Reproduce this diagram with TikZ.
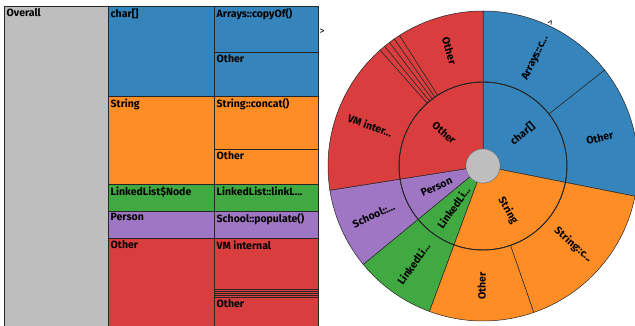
\documentclass[tikz,border=0pt]{standalone}
\usepackage{fontspec}
\setmainfont{Fira Sans}
\usetikzlibrary{positioning}
\definecolor{FlameBlue}{HTML}{3585BC}
\definecolor{FlameOrange}{HTML}{FF8D26}
\definecolor{FlameGreen}{HTML}{41A941}
\definecolor{FlameRed}{HTML}{DA3D3D}
\definecolor{FlamePurple}{HTML}{9F76C4}
\definecolor{FlameGray}{HTML}{BEBEBE}

\begin{document}
\begin{tikzpicture}[x=1pt, y=-1pt,
  cell/.style={draw=black!85, line width=0.6pt},
  tmlabel/.style={anchor=north west, inner sep=2.5pt, font=\bfseries\fontsize{10.5}{11}\selectfont},
  wedge/.style={draw=black!85, line width=0.5pt},
  sblabel/.style={inner sep=0pt, font=\bfseries\fontsize{10.5}{11}\selectfont},
  tip/.style={inner sep=0pt, font=\fontsize{10}{10}\selectfont}
]
  \useasboundingbox (0,0) rectangle (635,326);
  \clip (0,0) rectangle (635,326);

  % treemap, left
  \draw[cell, fill=FlameGray] (4,6) rectangle (108,330);
  \node[tmlabel] (overall) at (4,6) {Overall};
  \foreach \top/\bot/\col/\txt [count=\i] in {
      6/96/FlameBlue/{char[]},
      96/184/FlameOrange/{String},
      184/211/FlameGreen/{LinkedList\$Node},
      211/238/FlamePurple/{Person},
      238/330/FlameRed/{Other}} {
    \draw[cell, fill=\col] (108,\top) rectangle (214,\bot);
    \node[tmlabel] (type-\i) at (108,\top) {\txt};
  }
  \foreach \top/\bot/\col/\txt [count=\i] in {
      6/52/FlameBlue/{Arrays::copyOf()},
      52/96/FlameBlue/{Other},
      96/149/FlameOrange/{String::concat()},
      149/184/FlameOrange/{Other},
      184/211/FlameGreen/{LinkedList::linkL...},
      211/238/FlamePurple/{School::populate()},
      238/289/FlameRed/{VM internal},
      289/291/FlameRed/{},
      291/293/FlameRed/{},
      293/295/FlameRed/{},
      295/297/FlameRed/{},
      297/330/FlameRed/{Other}} {
    \draw[cell, fill=\col] (214,\top) rectangle (318,\bot);
    \node[tmlabel] (site-\i) at (214,\top) {\txt};
  }
  \node[tip] (tipA) at (322,32) {>};

  % sunburst, right
  \begin{scope}[shift={(483,166)}]
    % inner ring
    \foreach \a/\b/\col/\txt [count=\i] in {
        0/101.25/FlameBlue/{char[]},
        101.25/200.25/FlameOrange/{String},
        200.25/230.6/FlameGreen/{LinkedLi...},
        230.6/261/FlamePurple/{Person},
        261/360/FlameRed/{Other}} {
      \fill[wedge, fill=\col] (\a-90:17) -- (\a-90:84)
        arc[start angle=\a-90, end angle=\b-90, radius=84]
        -- (\b-90:17) arc[start angle=\b-90, end angle=\a-90, radius=17] -- cycle;
      \pgfmathsetmacro\mid{(\a+\b)/2}
      \pgfmathsetmacro\rot{90-\mid}
      \pgfmathsetmacro\rot{ifthenelse(\rot<-90,\rot+180,\rot)}
      \node[sblabel, rotate=\rot] (ring-\i) at (\mid-90:51) {\txt};
    }
    % outer ring
    \foreach \a/\b/\col/\txt [count=\i] in {
        0/51.75/FlameBlue/{Arrays::c...},
        51.75/101.25/FlameBlue/{Other},
        101.25/160.9/FlameOrange/{String::c...},
        160.9/200.25/FlameOrange/{Other},
        200.25/230.6/FlameGreen/{LinkedLi...},
        230.6/261/FlamePurple/{School::...},
        261/318.4/FlameRed/{VM inter...},
        318.4/320.6/FlameRed/{},
        320.6/322.9/FlameRed/{},
        322.9/325.1/FlameRed/{},
        325.1/327.4/FlameRed/{},
        327.4/360/FlameRed/{Other}} {
      \fill[wedge, fill=\col] (\a-90:84) -- (\a-90:155)
        arc[start angle=\a-90, end angle=\b-90, radius=155]
        -- (\b-90:84) arc[start angle=\b-90, end angle=\a-90, radius=84] -- cycle;
      \pgfmathsetmacro\mid{(\a+\b)/2}
      \pgfmathsetmacro\rot{90-\mid}
      \pgfmathsetmacro\rot{ifthenelse(\rot<-90,\rot+180,\rot)}
      \node[sblabel, rotate=\rot] (leaf-\i) at (\mid-90:120) {\txt};
    }
    \draw[black!85, line width=0.9pt] (0,0) circle[radius=84];
    \node[circle, fill=FlameGray, draw=black!45, line width=0.5pt,
      minimum size=34, inner sep=0pt] (root) at (0,0) {};
  \end{scope}
  \node[tip, rotate=60] (tipB) at (551,23) {>};
\end{tikzpicture}
\end{document}
